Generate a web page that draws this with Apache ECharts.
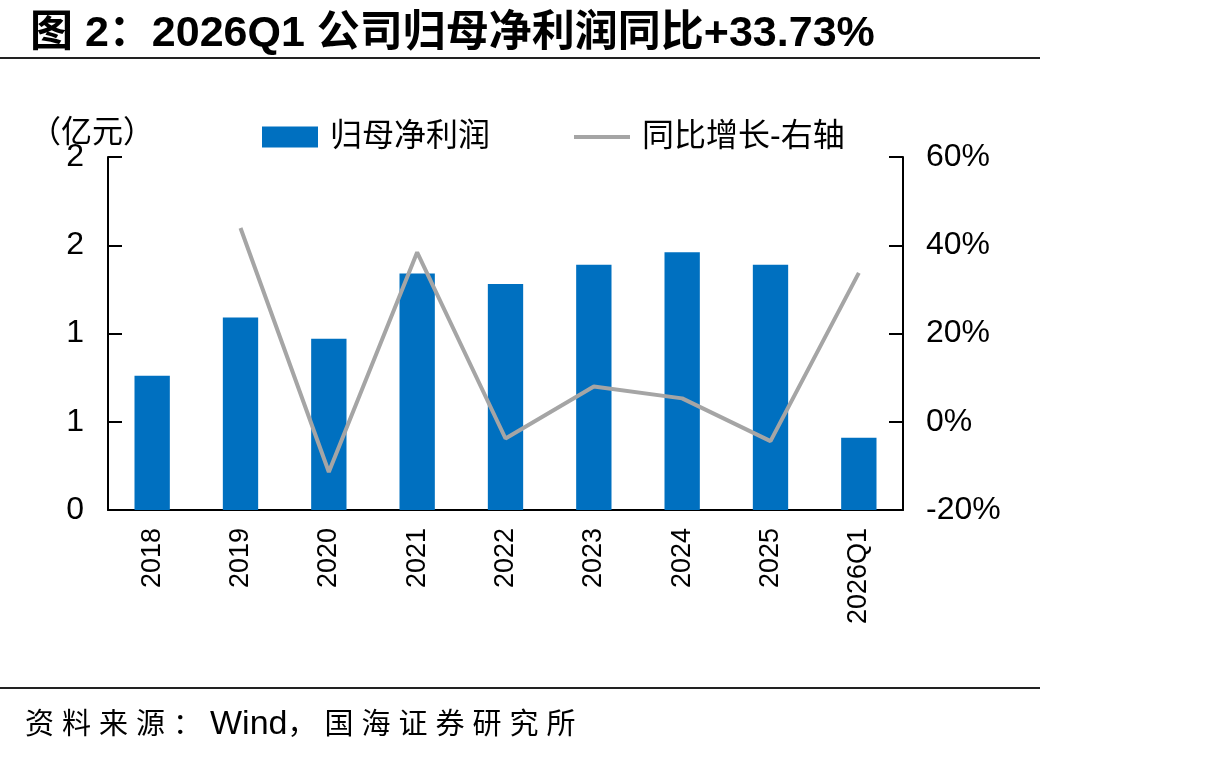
<!DOCTYPE html>
<html>
<head>
<meta charset="utf-8">
<script src="https://cdn.jsdelivr.net/npm/echarts@6/dist/echarts.min.js"></script>
<style>
  html, body { margin: 0; padding: 0; background: #fff; }
  #chart { width: 1214px; height: 758px; }
  .source {
    position: absolute; left: 25px; top: 700px;
    font: 29px "Liberation Sans", "Noto Sans CJK SC", sans-serif;
    color: #000; white-space: nowrap;
  }
  .source .cn { letter-spacing: 8px; }
  .source .en { font-size: 34px; }
</style>
</head>
<body>
<div id="chart"></div>
<div class="source"><span class="cn">资料来源：</span><span class="en">Wind</span><span class="cn">，国海证券研究所</span></div>
<script>
// 数据
const categories = ["2018", "2019", "2020", "2021", "2022", "2023", "2024", "2025", "2026Q1"];
const profit = [0.76, 1.09, 0.97, 1.34, 1.28, 1.39, 1.46, 1.39, 0.41]; // 归母净利润（亿元）
const yoy = [null, 43.9, -11.4, 38.4, -3.8, 8.0, 5.3, -4.4, 33.73]; // 同比增长 %

const font = '"Liberation Sans", "Noto Sans CJK SC", sans-serif';
const legendText = { fontFamily: font, fontSize: 32, color: "#000", padding: [0, 0, 0, 7] };

let myChart = echarts.init(document.getElementById("chart"));
myChart.setOption({
  animation: false,
  title: {
    text: "图 2：2026Q1 公司归母净利润同比+33.73%",
    left: 25,
    top: 8,
    textStyle: { fontFamily: font, fontSize: 43, fontWeight: "bold", color: "#000" },
  },
  // 两个图例分开放，线的图例只画一条线
  legend: [
    {
      left: 257,
      top: 116,
      itemWidth: 56,
      itemHeight: 21,
      textStyle: legendText,
      data: [{ name: "归母净利润", icon: "rect" }],
    },
    {
      left: 569,
      top: 116,
      itemWidth: 56,
      itemHeight: 4,
      textStyle: legendText,
      data: [{ name: "同比增长-右轴", icon: "rect" }],
    },
  ],
  graphic: [
    {
      type: "text",
      left: 30,
      top: 115,
      style: { text: "（亿元）", font: '31px "Noto Sans CJK SC", sans-serif', fill: "#000" },
    },
    {
      type: "line",
      shape: { x1: 0, y1: 58, x2: 1040, y2: 58 },
      style: { stroke: "#222", lineWidth: 2 },
    },
    {
      type: "line",
      shape: { x1: 0, y1: 688, x2: 1040, y2: 688 },
      style: { stroke: "#222", lineWidth: 2 },
    },
  ],
  grid: {
    left: 108,
    right: 311,
    top: 157,
    bottom: 248,
  },
  xAxis: {
    type: "category",
    data: categories,
    axisLine: { lineStyle: { color: "#000", width: 2 } },
    axisTick: { inside: true, length: 10, lineStyle: { color: "#000", width: 2 } },
    axisLabel: {
      interval: 0,
      rotate: 90,
      margin: 18,
      fontFamily: font,
      fontSize: 27,
      color: "#000",
    },
  },
  yAxis: [
    {
      type: "value",
      min: 0,
      max: 2,
      interval: 0.5,
      axisLine: { show: true, lineStyle: { color: "#000", width: 2 } },
      axisTick: { show: true, inside: true, length: 14, lineStyle: { color: "#000", width: 2 } },
      splitLine: { show: false },
      axisLabel: {
        margin: 24,
        fontFamily: font,
        fontSize: 32,
        color: "#000",
        formatter: (v) => String(Math.round(v)),
      },
    },
    {
      type: "value",
      min: -20,
      max: 60,
      interval: 20,
      position: "right",
      axisLine: { show: true, lineStyle: { color: "#000", width: 2 } },
      axisTick: { show: true, inside: true, length: 14, lineStyle: { color: "#000", width: 2 } },
      splitLine: { show: false },
      axisLabel: {
        margin: 23,
        fontFamily: font,
        fontSize: 32,
        color: "#000",
        formatter: "{value}%",
      },
    },
  ],
  series: [
    {
      name: "归母净利润",
      type: "bar",
      data: profit,
      barWidth: "40%",
      itemStyle: { color: "#0070C0" },
    },
    {
      name: "同比增长-右轴",
      type: "line",
      yAxisIndex: 1,
      data: yoy,
      symbol: "none",
      lineStyle: { color: "#A5A5A5", width: 4 },
      itemStyle: { color: "#A5A5A5" },
    },
  ],
});
</script>
</body>
</html>
